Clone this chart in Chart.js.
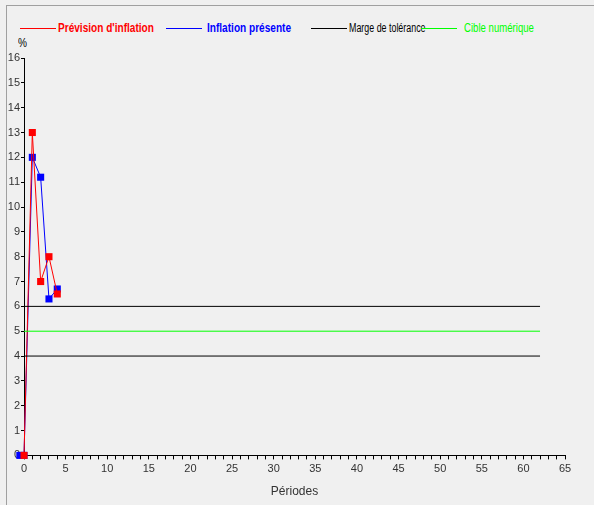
<!DOCTYPE html>
<html><head><meta charset="utf-8">
<script src="https://cdn.jsdelivr.net/npm/chart.js@4"></script>
<style>
body{margin:0;background:#f0f0f0;font-family:Arial,"Liberation Sans",sans-serif;}
#frame{position:absolute;left:6px;top:5px;width:600px;height:520px;border-top:1px solid #a0a0a0;border-left:1px solid #a0a0a0;}
.ln{position:absolute;top:28px;width:36px;height:1px;}
.lg{position:absolute;top:21px;font-size:12px;white-space:nowrap;transform:scaleX(0.84);transform-origin:left center;}
#wrap{position:absolute;left:0;top:0;width:594px;height:505px;}
</style></head><body>
<div id="frame"></div>
<div class="ln" style="left:20px;background:#f00"></div>
<div class="lg" style="left:58px;color:#f00;font-weight:bold">Prévision d'inflation</div>
<div class="ln" style="left:166px;background:#00f"></div>
<div class="lg" style="left:207px;color:#00f;font-weight:bold">Inflation présente</div>
<div class="ln" style="left:311px;background:#000"></div>
<div class="lg" style="left:349px;color:#000;transform:scaleX(0.74)">Marge de tolérance</div>
<div class="ln" style="left:421px;background:#0f0"></div>
<div class="lg" style="left:464px;color:#0f0;transform:scaleX(0.8)">Cible numérique</div>
<div class="lg" style="left:18px;top:36px;color:#000">%</div>
<div id="wrap"><canvas id="c" width="594" height="505"></canvas></div>
<script>
const forecastX = [0, 1, 2, 3, 4];
const forecastY = [0, 13, 7, 8, 6.5];
const presentX = [-1.6, -0.5, 0, 1, 2, 3, 4];
const presentY = [0, 0, 0, 12, 11.2, 6.3, 6.7];
const upperMargin = 6, lowerMargin = 4, target = 5;
const lineEnd = 62;

function pts(xs, ys) { return xs.map((x, i) => ({x: x, y: ys[i]})); }
function hline(v) { return [{x: 0, y: v}, {x: lineEnd, y: v}]; }

new Chart(document.getElementById('c'), {
    type: 'scatter',
    data: {
        datasets: [
            {data: hline(upperMargin), showLine: true, borderColor: '#000', borderWidth: 1, pointRadius: 0},
            {data: hline(lowerMargin), showLine: true, borderColor: '#000', borderWidth: 1, pointRadius: 0},
            {data: hline(target), showLine: true, borderColor: '#0f0', borderWidth: 1, pointRadius: 0},
            {data: pts(forecastX, forecastY), showLine: true, borderColor: '#f00', borderWidth: 1, clip: false,
             pointStyle: 'rect', pointRadius: 5, backgroundColor: '#f00', pointBorderWidth: 0},
            {data: pts(presentX, presentY), showLine: true, borderColor: '#00f', borderWidth: 1, clip: false,
             pointStyle: 'rect', pointRadius: 5, backgroundColor: '#00f', pointBorderWidth: 0}
        ]
    },
    options: {
        responsive: false, animation: false,
        layout: {padding: {left: 0, top: 58, right: 29, bottom: 2}},
        plugins: {legend: {display: false}, tooltip: {enabled: false}},
        scales: {
            x: {
                type: 'linear', min: 0, max: 65,
                afterBuildTicks: ax => { ax.ticks = []; for (let i = 0; i <= 65; i++) ax.ticks.push({value: i}); },
                grid: {drawOnChartArea: false, color: '#000', tickLength: 4},
                border: {color: '#000'},
                ticks: {color: '#333', font: {size: 11}, autoSkip: false, maxRotation: 0,
                        callback: v => v % 5 === 0 ? v : ''},
                title: {display: true, text: 'Périodes', color: '#333', font: {size: 12}, padding: {top: 6}}
            },
            y: {
                min: 0, max: 16,
                afterBuildTicks: ax => { ax.ticks = []; for (let i = 0; i <= 16; i++) ax.ticks.push({value: i}); },
                afterFit: ax => { ax.width = 24; },
                grid: {drawOnChartArea: false, color: '#000', tickLength: 3},
                border: {color: '#000'},
                ticks: {color: '#333', font: {size: 11}, padding: 1}
            }
        }
    }
});
</script>
</body></html>
